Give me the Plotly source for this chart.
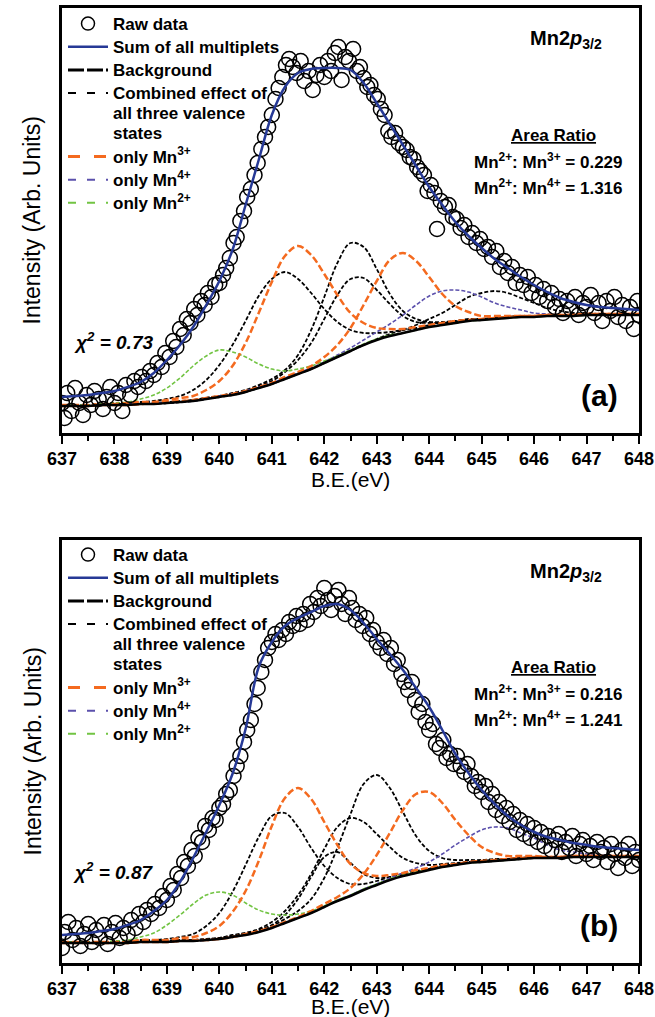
import plotly.graph_objects as go

FONT = "Liberation Sans, Arial, sans-serif"

# ---------------- data (arbitrary intensity units) ----------------
BE_GRID = [637.0, 637.25, 637.5, 637.75, 638.0, 638.25, 638.5, 638.75, 639.0, 639.25,
           639.5, 639.75, 640.0, 640.25, 640.5, 640.75, 641.0, 641.25, 641.5, 641.75,
           642.0, 642.25, 642.5, 642.75, 643.0, 643.25, 643.5, 643.75, 644.0, 644.25,
           644.5, 644.75, 645.0, 645.25, 645.5, 645.75, 646.0, 646.25, 646.5, 646.75,
           647.0, 647.25, 647.5, 647.75, 648.0]
X_TICKS = [637, 638, 639, 640, 641, 642, 643, 644, 645, 646, 647, 648]

# ---- panel (a) ----
a_background = [27, 27, 27, 28, 28, 28, 29, 29, 30, 31, 32, 34, 36, 38, 41, 45, 49, 54, 59, 64,
                70, 76, 82, 88, 93, 97, 100, 103, 106, 108, 110, 112, 113, 114, 115, 116, 116, 117, 117, 117,
                118, 118, 118, 118, 118]
a_sum = [36, 37, 38, 40, 42, 46, 51, 60, 73, 88, 106, 128, 152, 183, 228, 273, 318, 346, 360, 364,
         365, 365, 363, 350, 330, 309, 288, 267, 246, 228, 211, 197, 185, 174, 165, 156, 148, 141, 135, 131,
         128, 126, 125, 124, 123]
a_mn2 = [28, 28, 28, 29, 30, 31, 34, 38, 45, 55, 67, 77, 83, 81, 76, 69, 64, 62, 64, 67,
         72, 77, 83, 89, 94, 98, 100, 103, 106, 108, 110, 112, 113, 114, 115, 116, 116, 117, 117, 117,
         118, 118, 118, 118, 118]
a_mn3_p1 = [28, 28, 28, 29, 29, 30, 31, 31, 33, 35, 37, 43, 52, 67, 90, 120, 151, 177, 187, 178,
            159, 138, 120, 110, 105, 104, 104, 106, 108, 110, 112, 113, 114, 115, 116, 117, 117, 118, 118, 118,
            119, 119, 119, 119, 119]
a_mn3_p2 = [27, 27, 27, 28, 28, 28, 29, 30, 31, 32, 33, 35, 37, 39, 42, 46, 50, 56, 61, 67,
            76, 88, 105, 128, 152, 173, 180, 172, 156, 139, 127, 121, 117, 117, 117, 117, 117, 118, 118, 118,
            119, 119, 119, 119, 119]
a_mn4 = [28, 28, 28, 28, 28, 29, 29, 30, 30, 31, 32, 34, 37, 39, 42, 46, 50, 55, 60, 65,
         71, 78, 85, 93, 101, 109, 118, 128, 137, 142, 143, 141, 136, 130, 126, 123, 120, 119, 118, 118,
         119, 119, 119, 119, 119]
a_comb_1 = [28, 28, 28, 29, 30, 30, 31, 32, 34, 37, 43, 53, 68, 88, 112, 137, 154, 161, 154, 140,
            124, 111, 103, 100, 100, 101, 103, 105, 108, 110, 111, 113, 114, 115, 116, 117, 117, 118, 118, 118,
            119, 119, 119, 119, 119]
a_comb_2 = [28, 28, 28, 29, 29, 29, 30, 30, 31, 32, 33, 35, 37, 40, 43, 48, 54, 63, 78, 103,
            136, 170, 190, 186, 164, 139, 122, 114, 111, 111, 112, 114, 114, 115, 116, 117, 117, 118, 118, 118,
            119, 119, 119, 119, 119]
a_comb_3 = [27, 27, 28, 28, 28, 29, 29, 30, 30, 31, 33, 35, 37, 39, 42, 47, 52, 61, 73, 90,
            114, 138, 154, 155, 143, 129, 117, 111, 110, 110, 112, 113, 114, 115, 116, 117, 117, 118, 118, 118,
            119, 119, 119, 119, 119]
a_comb_4 = [27, 27, 27, 28, 28, 28, 29, 29, 30, 31, 32, 34, 36, 38, 41, 45, 49, 54, 59, 64,
            70, 76, 82, 88, 94, 99, 103, 108, 114, 120, 128, 136, 140, 142, 140, 135, 130, 125, 122, 120,
            120, 119, 119, 119, 119]

a_raw_be = [637.00, 637.05, 637.10, 637.18, 637.25, 637.33, 637.40, 637.47, 637.55, 637.62,
            637.70, 637.78, 637.85, 637.92, 638.00, 638.07, 638.15, 638.22, 638.30, 638.38,
            638.45, 638.52, 638.60, 638.68, 638.75, 638.82, 638.90, 638.97, 639.05, 639.12,
            639.18, 639.25, 639.32, 639.38, 639.45, 639.52, 639.58, 639.65, 639.72, 639.78,
            639.85, 639.92, 640.00, 640.07, 640.13, 640.20, 640.27, 640.33, 640.40, 640.47,
            640.53, 640.60, 640.67, 640.73, 640.80, 640.87, 640.93, 641.00, 641.07, 641.13,
            641.20, 641.27, 641.33, 641.40, 641.47, 641.55, 641.62, 641.70, 641.78, 641.85,
            641.92, 642.00, 642.07, 642.13, 642.20, 642.27, 642.33, 642.40, 642.47, 642.55,
            642.62, 642.68, 642.75, 642.82, 642.88, 642.95, 643.02, 643.08, 643.15, 643.22,
            643.28, 643.35, 643.42, 643.50, 643.57, 643.63, 643.70, 643.77, 643.83, 643.90,
            643.97, 644.03, 644.10, 644.15, 644.22, 644.30, 644.37, 644.45, 644.52, 644.60,
            644.67, 644.75, 644.82, 644.90, 644.97, 645.05, 645.12, 645.20, 645.28, 645.35,
            645.43, 645.50, 645.58, 645.65, 645.73, 645.80, 645.88, 645.95, 646.03, 646.10,
            646.18, 646.25, 646.33, 646.40, 646.48, 646.55, 646.63, 646.70, 646.78, 646.85,
            646.93, 647.00, 647.08, 647.15, 647.23, 647.30, 647.38, 647.45, 647.53, 647.60,
            647.68, 647.75, 647.83, 647.90, 647.97, 648.00]
a_raw_int = [30, 15, 40, 22, 45, 30, 18, 38, 28, 42,
             34, 24, 36, 46, 30, 40, 22, 48, 38, 52,
             46, 56, 52, 62, 58, 70, 66, 80, 76, 92,
             86, 104, 98, 114, 110, 124, 118, 132, 128, 140,
             136, 148, 150, 158, 165, 175, 190, 196, 212, 222,
             236, 244, 258, 270, 284, 296, 306, 318, 334, 345,
             356, 368, 374, 366, 360, 372, 352, 362, 343, 358,
             368, 356, 372, 362, 380, 386, 353, 376, 372, 384,
             362, 366, 355, 346, 348, 338, 334, 324, 318, 302,
             296, 300, 290, 286, 283, 276, 274, 266, 262, 258,
             242, 248, 240, 204, 232, 226, 228, 216, 214, 205,
             208, 196, 200, 190, 194, 184, 186, 176, 182, 166,
             172, 160, 166, 150, 158, 148, 156, 140, 148, 136,
             144, 132, 140, 126, 134, 120, 132, 124, 136, 118,
             130, 126, 138, 120, 130, 112, 132, 122, 136, 116,
             128, 112, 126, 104, 132, 118]

# ---- panel (b) ----
b_background = [27, 27, 27, 27, 27, 27, 28, 28, 28, 29, 29, 30, 31, 33, 35, 38, 42, 47, 52, 57,
                63, 69, 74, 80, 85, 90, 94, 97, 100, 103, 105, 107, 108, 109, 110, 111, 112, 112, 112, 113,
                113, 113, 113, 113, 113]
b_sum = [35, 36, 37, 39, 41, 45, 50, 59, 70, 88, 112, 138, 165, 196, 241, 303, 328, 344, 352, 358,
         364, 366, 360, 347, 331, 316, 300, 282, 263, 240, 216, 197, 180, 166, 154, 145, 138, 133, 130, 127,
         125, 123, 122, 121, 120]
b_mn2 = [28, 28, 28, 28, 29, 30, 33, 37, 45, 55, 66, 75, 78, 75, 67, 60, 56, 55, 56, 59,
         64, 70, 75, 81, 86, 91, 95, 98, 100, 103, 105, 107, 108, 109, 110, 111, 112, 112, 112, 113,
         113, 113, 113, 113, 113]
b_mn3_p1 = [28, 28, 28, 28, 28, 28, 30, 30, 30, 32, 33, 37, 44, 58, 79, 109, 144, 172, 182, 171,
            148, 125, 106, 97, 94, 95, 97, 100, 102, 105, 106, 108, 109, 110, 111, 112, 113, 113, 113, 114,
            114, 114, 114, 114, 114]
b_mn3_p2 = [27, 27, 27, 27, 27, 27, 28, 28, 28, 29, 30, 30, 31, 33, 36, 39, 43, 48, 53, 59,
            66, 73, 82, 96, 115, 137, 160, 176, 178, 167, 150, 135, 123, 117, 114, 114, 114, 113, 113, 114,
            114, 114, 114, 114, 114]
b_mn4 = [27, 27, 27, 27, 27, 27, 28, 28, 28, 29, 29, 30, 31, 33, 35, 38, 42, 47, 52, 57,
         63, 70, 75, 81, 86, 92, 97, 102, 108, 116, 125, 133, 140, 143, 142, 137, 132, 125, 120, 118,
         116, 115, 114, 114, 114]
b_comb_1 = [28, 28, 28, 28, 28, 28, 30, 30, 31, 33, 36, 44, 57, 78, 105, 133, 154, 157, 143, 122,
            104, 92, 86, 86, 89, 93, 96, 99, 101, 104, 106, 108, 109, 110, 111, 112, 113, 113, 113, 114,
            114, 114, 114, 114, 114]
b_comb_2 = [27, 27, 28, 28, 28, 28, 29, 29, 29, 30, 30, 31, 32, 35, 37, 41, 48, 59, 75, 96,
            121, 143, 152, 148, 136, 123, 112, 107, 105, 106, 107, 108, 109, 110, 111, 112, 113, 113, 113, 114,
            114, 114, 113, 113, 113]
b_comb_3 = [28, 28, 28, 28, 28, 28, 29, 29, 29, 30, 30, 31, 32, 34, 37, 40, 44, 51, 59, 71,
            92, 122, 156, 186, 195, 182, 158, 134, 119, 112, 110, 110, 110, 111, 111, 112, 113, 113, 113, 114,
            114, 114, 114, 114, 114]
b_comb_4 = [27, 27, 27, 27, 27, 27, 28, 28, 28, 29, 29, 30, 32, 34, 36, 40, 45, 55, 71, 93,
            113, 118, 107, 96, 92, 93, 95, 98, 101, 104, 106, 108, 108, 109, 110, 111, 112, 112, 112, 113,
            113, 113, 113, 113, 113]

b_raw_be = [637.00, 637.05, 637.12, 637.20, 637.27, 637.35, 637.42, 637.50, 637.57, 637.65,
            637.72, 637.80, 637.87, 637.95, 638.02, 638.10, 638.17, 638.25, 638.32, 638.40,
            638.47, 638.55, 638.62, 638.70, 638.77, 638.85, 638.92, 639.00, 639.07, 639.13,
            639.20, 639.27, 639.33, 639.40, 639.47, 639.53, 639.60, 639.67, 639.73, 639.80,
            639.87, 639.93, 640.00, 640.07, 640.13, 640.20, 640.27, 640.33, 640.40, 640.47,
            640.53, 640.60, 640.67, 640.73, 640.80, 640.87, 640.93, 641.00, 641.07, 641.13,
            641.20, 641.27, 641.33, 641.40, 641.47, 641.53, 641.60, 641.67, 641.73, 641.80,
            641.87, 641.93, 642.00, 642.07, 642.13, 642.20, 642.27, 642.33, 642.40, 642.47,
            642.53, 642.60, 642.67, 642.73, 642.80, 642.87, 642.93, 643.00, 643.07, 643.13,
            643.20, 643.27, 643.33, 643.40, 643.47, 643.53, 643.60, 643.67, 643.73, 643.80,
            643.87, 643.93, 644.00, 644.07, 644.13, 644.20, 644.27, 644.33, 644.40, 644.47,
            644.53, 644.60, 644.67, 644.73, 644.80, 644.87, 644.93, 645.00, 645.07, 645.13,
            645.20, 645.27, 645.33, 645.40, 645.47, 645.53, 645.60, 645.67, 645.73, 645.80,
            645.87, 645.93, 646.00, 646.07, 646.13, 646.20, 646.27, 646.33, 646.40, 646.47,
            646.53, 646.60, 646.67, 646.73, 646.80, 646.87, 646.93, 647.00, 647.07, 647.13,
            647.20, 647.27, 647.33, 647.40, 647.47, 647.53, 647.60, 647.67, 647.73, 647.80,
            647.87, 647.93, 648.00]
b_raw_int = [22, 38, 48, 30, 42, 24, 36, 46, 28, 40,
             32, 45, 26, 38, 47, 32, 42, 36, 50, 42,
             56, 48, 60, 56, 66, 62, 74, 70, 84, 80,
             96, 92, 108, 104, 120, 114, 132, 128, 144, 140,
             152, 150, 162, 166, 176, 180, 194, 204, 214, 228,
             240, 250, 266, 282, 298, 310, 322, 328, 336, 330,
             340, 336, 348, 344, 354, 346, 356, 350, 366, 358,
             372, 364, 382, 370, 360, 374, 380, 366, 356, 372,
             362, 350, 356, 344, 352, 336, 340, 328, 322, 330,
             316, 322, 306, 310, 296, 288, 280, 288, 270, 258,
             266, 248, 240, 246, 226, 222, 230, 212, 216, 206,
             214, 204, 198, 206, 194, 184, 188, 178, 184, 168,
             176, 160, 168, 154, 162, 148, 156, 140, 150, 136,
             146, 132, 142, 128, 138, 124, 134, 120, 130, 136,
             118, 128, 122, 134, 114, 126, 130, 116, 124, 110,
             128, 118, 122, 108, 126, 116, 102, 120, 112, 126,
             104, 118, 110]

LEGEND_NAMES = ["Raw data", "Sum of all multiplets", "Background",
                "Combined effect of<br>all three valence<br>states",
                "only Mn<sup>3+</sup>", "only Mn<sup>4+</sup>", "only Mn<sup>2+</sup>"]

# ---------------- layout geometry (pixels) ----------------
W, H = 655, 1017
ML, MR, MT, MB = 62, 16, 8, 54
PW = W - ML - MR
PH = H - MT - MB


def px(x):
    return (x - ML) / PW


def py(y):
    return (H - MB - y) / PH


A_TOP, A_BOT = 8, 433
B_TOP, B_BOT = 540, 963

BLUE = "#263996"
ORANGE = "#F46A1F"
PURPLE = "#5B50AC"
GREEN = "#72C443"

fig = go.Figure()


def add_panel(xa, ya, bg, sm, mn2, mn3s, mn4, combs, raw_x, raw_y):
    for c in combs:
        fig.add_trace(go.Scatter(x=BE_GRID, y=c, mode="lines", xaxis=xa, yaxis=ya, showlegend=False,
                                 line=dict(color="black", width=1.8, dash="4px,2px", shape="spline")))
    fig.add_trace(go.Scatter(x=BE_GRID, y=mn4, mode="lines", xaxis=xa, yaxis=ya, showlegend=False,
                             line=dict(color=PURPLE, width=1.6, dash="4px,2px", shape="spline")))
    fig.add_trace(go.Scatter(x=BE_GRID, y=mn2, mode="lines", xaxis=xa, yaxis=ya, showlegend=False,
                             line=dict(color=GREEN, width=1.6, dash="4px,2px", shape="spline")))
    for m in mn3s:
        fig.add_trace(go.Scatter(x=BE_GRID, y=m, mode="lines", xaxis=xa, yaxis=ya, showlegend=False,
                                 line=dict(color=ORANGE, width=2.5, dash="7px,3px", shape="spline")))
    fig.add_trace(go.Scatter(x=BE_GRID, y=bg, mode="lines", xaxis=xa, yaxis=ya, showlegend=False,
                             line=dict(color="black", width=2.5, shape="spline")))
    fig.add_trace(go.Scatter(x=raw_x, y=raw_y, mode="markers", xaxis=xa, yaxis=ya, showlegend=False,
                             marker=dict(symbol="circle-open", size=15, color="black",
                                         line=dict(width=1.5, color="black"))))
    fig.add_trace(go.Scatter(x=BE_GRID, y=sm, mode="lines", xaxis=xa, yaxis=ya, showlegend=False,
                             line=dict(color=BLUE, width=2.5, shape="spline")))


def big(t):
    return "<br>".join('<span style="font-size:17px">' + part + "</span>" for part in t.split("<br>"))


def add_legend(xa, ya, leg):
    common = dict(x=[None], y=[None], xaxis=xa, yaxis=ya, legend=leg, showlegend=True)
    fig.add_trace(go.Scatter(mode="markers", name=big(LEGEND_NAMES[0]),
                             marker=dict(symbol="circle-open", size=13, color="black",
                                         line=dict(width=1.5, color="black")), **common))
    fig.add_trace(go.Scatter(mode="lines", name=big(LEGEND_NAMES[1]),
                             line=dict(color=BLUE, width=2.5), **common))
    fig.add_trace(go.Scatter(mode="lines", name=big(LEGEND_NAMES[2]),
                             line=dict(color="black", width=3, dash="16px,3px"), **common))
    fig.add_trace(go.Scatter(mode="lines", name=big(LEGEND_NAMES[3]),
                             line=dict(color="black", width=2, dash="8px,11px"), **common))
    fig.add_trace(go.Scatter(mode="lines", name=big(LEGEND_NAMES[4]),
                             line=dict(color=ORANGE, width=3, dash="12px,14px"), **common))
    fig.add_trace(go.Scatter(mode="lines", name=big(LEGEND_NAMES[5]),
                             line=dict(color=PURPLE, width=2, dash="8px,11px"), **common))
    fig.add_trace(go.Scatter(mode="lines", name=big(LEGEND_NAMES[6]),
                             line=dict(color=GREEN, width=2, dash="8px,11px"), **common))


add_panel("x", "y", a_background, a_sum, a_mn2, [a_mn3_p1, a_mn3_p2], a_mn4,
          [a_comb_1, a_comb_2, a_comb_3, a_comb_4], a_raw_be, a_raw_int)
add_panel("x2", "y2", b_background, b_sum, b_mn2, [b_mn3_p1, b_mn3_p2], b_mn4,
          [b_comb_1, b_comb_2, b_comb_3, b_comb_4], b_raw_be, b_raw_int)
add_legend("x", "y", "legend")
add_legend("x2", "y2", "legend2")

xaxis_common = dict(range=[637, 648], tickvals=X_TICKS, ticks="outside", ticklen=8, tickwidth=2,
                    tickcolor="black", showline=True, linewidth=2.5, linecolor="black", mirror=True,
                    showgrid=False, zeroline=False,
                    tickfont=dict(family=FONT, size=18, color="black", weight="bold"),
                    minor=dict(dtick=0.5, tick0=637, ticks="outside", ticklen=5, tickwidth=2,
                               tickcolor="black", showgrid=False))
yaxis_common = dict(showticklabels=False, ticks="", showline=True, linewidth=2.5, linecolor="black",
                    mirror=True, showgrid=False, zeroline=False)

legend_common = dict(xanchor="left", yanchor="top", bgcolor="rgba(0,0,0,0)", borderwidth=0,
                     font=dict(family=FONT, size=15.5, color="black", weight="bold"),
                     tracegroupgap=0, valign="top", itemwidth=40)

fig.update_layout(
    width=W, height=H,
    margin=dict(l=ML, r=MR, t=MT, b=MB, autoexpand=False),
    paper_bgcolor="white", plot_bgcolor="white",
    xaxis=dict(domain=[0, 1], anchor="y", **xaxis_common),
    yaxis=dict(domain=[py(A_BOT), py(A_TOP)], range=[0, 425], anchor="x", **yaxis_common),
    xaxis2=dict(domain=[0, 1], anchor="y2", **xaxis_common),
    yaxis2=dict(domain=[py(B_BOT), py(B_TOP)], range=[7, 430], anchor="x2", **yaxis_common),
    legend=dict(x=px(63), y=py(A_TOP - 1), **legend_common),
    legend2=dict(x=px(63), y=py(B_TOP - 2), **legend_common),
    showlegend=True,
)

annots = []


def note(x, y, text, size, bold=True, italic=False, angle=0):
    annots.append(dict(x=px(x), y=py(y), xref="paper", yref="paper", text=text, showarrow=False,
                       xanchor="center", yanchor="middle", textangle=angle,
                       font=dict(family=FONT, size=size, color="black",
                                 weight="bold" if bold else "normal",
                                 style="italic" if italic else "normal")))


for (top, bot, lab, chi, r3, r4, xt) in [(A_TOP, A_BOT, "(a)", "0.73", "0.229", "1.316", 479),
                                          (B_TOP, B_BOT, "(b)", "0.87", "0.216", "1.241", 1006)]:
    note(32, (top + bot) / 2, "Intensity (Arb. Units)", 23, bold=False, angle=-90)
    note(350, xt, "B.E.(eV)", 21, bold=False)
    note(566, top + 32, "Mn2<i>p</i><sub>3/2</sub>", 20)
    note(553, top + 127, "<u>Area Ratio</u>", 17)
    note(548, top + 153, "Mn<sup>2+</sup>: Mn<sup>3+</sup> = " + r3, 17)
    note(548, top + 179, "Mn<sup>2+</sup>: Mn<sup>4+</sup> = " + r4, 17)
    note(113, bot - 92, "χ<sup>2</sup> = " + chi, 19, italic=True)
    note(599, bot - 38, lab, 30)

fig.update_layout(annotations=annots)

fig.write_html("out.html", config={"displayModeBar": False},
               post_script="document.body.style.margin='0px';")
